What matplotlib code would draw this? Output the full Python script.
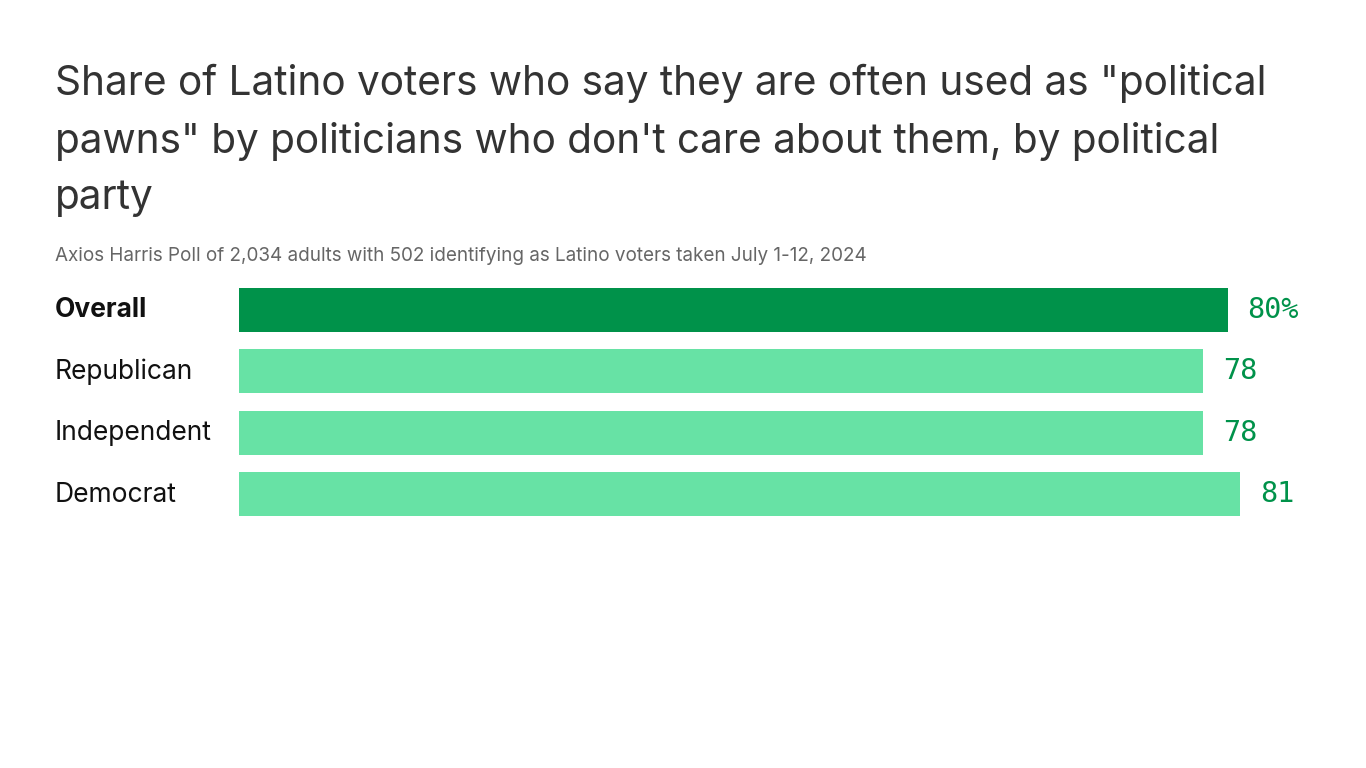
import matplotlib.pyplot as plt

categories = ["Overall", "Republican", "Independent", "Democrat"]
values = [80, 78, 78, 81]
labels = ["80%", "78", "78", "81"]
bar_colors = ["#00924a", "#67e2a5", "#67e2a5", "#67e2a5"]

title = ('Share of Latino voters who say they are often used as "political\n'
         'pawns" by politicians who don\'t care about them, by political\n'
         'party')
subtitle = "Axios Harris Poll of 2,034 adults with 502 identifying as Latino voters taken July 1-12, 2024"

plt.rcParams['font.family'] = ['Inter', 'DejaVu Sans']
fig = plt.figure(figsize=(13.66, 7.68), dpi=100)
W, H = 1366, 768

# axes spans bar region: x 239 -> value 81 at ~1240, y 288..516 px
ax = fig.add_axes([239 / W, 1 - 516 / H, 1001 / W, 228 / H])
ypos = list(range(len(categories)))
ax.barh(ypos, values, height=0.716, color=bar_colors)
ax.set_xlim(0, 81)
ax.set_ylim(3.358, -0.358)
ax.axis('off')

for y, v, lab in zip(ypos, values, labels):
    ax.text(v + 1.6, y, lab, va='center', ha='left', fontsize=20.5,
            family='DejaVu Sans Mono', color='#00924a')

for y, cat in zip(ypos, categories):
    ax.text(55 / W, 1 - (310 + 61.5 * y) / H, cat, transform=fig.transFigure,
            va='center', ha='left', fontsize=19, color='#111111',
            fontweight='bold' if y == 0 else 'normal')

fig.text(55 / W, 1 - 64 / H, title, va='top', ha='left', fontsize=29.2,
         color='#333333', linespacing=1.6)
fig.text(55 / W, 1 - 256 / H, subtitle, va='center', ha='left', fontsize=13.6,
         color='#666666')

fig.savefig("out.png", dpi=100)
